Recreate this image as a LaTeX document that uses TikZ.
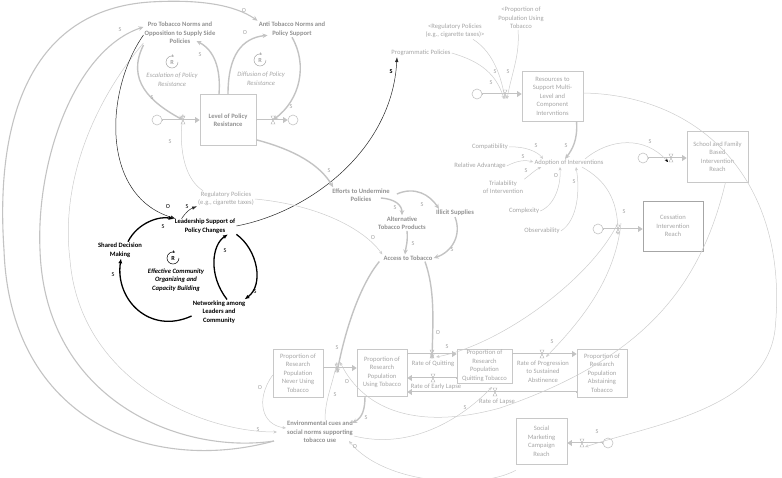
\documentclass[tikz,border=0pt]{standalone}
\usepackage{fontspec}
\setmainfont{Carlito}
\usetikzlibrary{arrows.meta}
\usetikzlibrary{calc}

\definecolor{lngray}{RGB}{205,205,205}
\definecolor{thkgray}{RGB}{195,195,195}
\definecolor{txtgray}{RGB}{165,165,165}
\definecolor{keygray}{RGB}{145,145,145}
\definecolor{boxgray}{RGB}{200,200,200}

\newcommand\dfont{\fontsize{6.6}{8.5}\selectfont}
\newcommand\pfont{\fontsize{6.2}{7}\selectfont}

\tikzset{
  vartxt/.style={text=txtgray, font=\dfont, align=center, inner sep=1pt},
  keyvar/.style={vartxt, text=keygray, font=\dfont\bfseries},
  blkvar/.style={vartxt, text=black, font=\dfont\bfseries},
  looptxt/.style={vartxt, font=\dfont\itshape},
  stockbox/.style={draw=boxgray, line width=0.6pt, text=txtgray, font=\dfont, align=center, inner sep=1pt},
  cloudc/.style={circle, draw=thkgray, line width=0.6pt, minimum size=10pt, inner sep=0pt},
  rmark/.style={circle, inner sep=0pt, minimum size=8pt, text=txtgray, font=\pfont\bfseries},
  rarc/.style={draw=txtgray, line width=0.5pt, -{Stealth[length=2.5pt,width=2.5pt]}},
  lnk/.style={draw=lngray, line width=0.5pt, -{Stealth[length=3.5pt,width=3pt]}},
  thk/.style={draw=thkgray, line width=1.4pt, -{Stealth[length=5pt,width=4.5pt]}},
  blk/.style={draw=black, line width=1.3pt, -{Latex[length=5pt,width=4pt]}},
  blkthin/.style={draw=black!85, line width=0.5pt, -{Latex[length=5pt,width=3.5pt]}},
  pol/.style={text=txtgray, font=\pfont, inner sep=0pt},
  blkpol/.style={text=black, font=\pfont, inner sep=0pt},
  pipebody/.style={draw=thkgray, line width=2.6pt, shorten >=3pt},
  pipecore/.style={draw=white, line width=1pt, shorten >=3.5pt, shorten <=0.8pt},
  pipetip/.style={draw=none, fill=thkgray},
  valve/.pic={\draw[draw=txtgray, line width=0.4pt, fill=white] (-2,-4) -- (2,-4) -- (-2,4) -- (2,4) -- cycle;}
}
% flow pipe with its head: #1 start, #2 end
\newcommand\flow[2]{%
  \draw[pipebody] (#1) -- (#2);
  \draw[pipecore] (#1) -- (#2);
  \path[pipetip] (#2) -- ($(#2)!4.5pt!(#1)!3pt!90:(#1)$) -- ($(#2)!4.5pt!(#1)!3pt!-90:(#1)$) -- cycle;
}

\begin{document}
\begin{tikzpicture}[x=1pt,y=-1pt]
\useasboundingbox (0,0) rectangle (782,477);

% policy resistance
\node[keyvar] (pro) at (180,33) {Pro Tobacco Norms and\\Opposition to Supply Side\\Policies};
\node[keyvar] (anti) at (292,29) {Anti Tobacco Norms and\\Policy Support};
\node[stockbox, text=keygray, font=\dfont\bfseries, minimum width=56pt, minimum height=51pt] (lpr) at (228,120) {Level of Policy\\Resistance};
\node[cloudc] (c1) at (157,120) {};
\node[cloudc] (c2) at (293,120) {};
\coordinate (v1) at (183,120);
\coordinate (v2) at (273,120);
\node[rmark] (r1) at (172,62) {R};
\node[looptxt] (esc) at (172,79.5) {Escalation of Policy\\Resistance};
\node[rmark] (r2) at (260,60) {R};
\node[looptxt] (dif) at (261,78.5) {Diffusion of Policy\\Resistance};

% community organizing loop
\node[vartxt] (reg) at (226,199) {Regulatory Policies\\(e.g., cigarette taxes)};
\node[blkvar] (lead) at (205,226) {Leadership Support of\\Policy Changes};
\node[blkvar] (shared) at (120,250) {Shared Decision\\Making};
\node[blkvar] (netw) at (219,312) {Networking among\\Leaders and\\Community};
\node[rmark, text=black] (r3) at (173,258) {R};
\node[looptxt, text=black, font=\dfont\bfseries\itshape] (eff) at (176,280) {Effective Community\\Organizing and\\Capacity Building};

% access to tobacco
\node[keyvar] (efforts) at (361,195) {Efforts to Undermine\\Policies};
\node[keyvar] (alt) at (402,223) {Alternative\\Tobacco Products};
\node[keyvar] (illicit) at (455,213) {Illicit Supplies};
\node[keyvar] (access) at (408,258) {Access to Tobacco};

% research population stocks
\node[stockbox, minimum width=50pt, minimum height=48pt] (never) at (298,373) {Proportion of\\Research\\Population\\Never Using\\Tobacco};
\node[stockbox, minimum width=50pt, minimum height=47pt] (using) at (382,372.5) {Proportion of\\Research\\Population\\Using Tobacco};
\node[stockbox, minimum width=55pt, minimum height=34pt] (quit) at (484.5,366) {Proportion of\\Research\\Population\\Quitting Tobacco};
\node[stockbox, minimum width=50pt, minimum height=48pt] (abst) at (602,373) {Proportion of\\Research\\Population\\Abstaining\\Tobacco};
\coordinate (v3) at (337,368);
\coordinate (v4) at (432,354);
\coordinate (v5) at (433,378);
\coordinate (v6) at (542,354);
\coordinate (v7) at (495,392);
\node[vartxt] (rq) at (433,364) {Rate of Quitting};
\node[vartxt] (rel) at (436,387) {Rate of Early Lapse};
\node[vartxt] (rp) at (543,371.5) {Rate of Progression\\to Sustained\\Abstinence};
\node[vartxt] (rl) at (497,402) {Rate of Lapse};
\node[keyvar] (env) at (320,432) {Environmental cues and\\social norms supporting\\tobacco use};

% resources and adoption
\node[vartxt] (prog) at (421,53) {Programmatic Policies};
\node[vartxt] (reg2) at (455,31) {<Regulatory Policies\\(e.g., cigarette taxes)>};
\node[vartxt] (popu) at (521,18) {<Proportion of\\Population Using\\Tobacco};
\node[stockbox, minimum width=61pt, minimum height=50pt] (res) at (552.5,96) {Resources to\\Support Multi-\\Level and\\Component\\Intervntions};
\node[cloudc] (c3) at (477,94) {};
\coordinate (v8) at (505,94);
\node[vartxt] (adopt) at (569,163) {Adoption of Interventions};
\node[vartxt] (compat) at (490,147) {Compatibility};
\node[vartxt] (relad) at (480,166) {Relative Advantage};
\node[vartxt] (trial) at (503,187) {Trialability\\of Intervention};
\node[vartxt] (complex) at (524,211) {Complexity};
\node[vartxt] (observ) at (542,231) {Observability};

% intervention reach stocks
\node[stockbox, minimum width=61pt, minimum height=51pt] (school) at (717.5,156.5) {School and Family\\Based\\Intervention\\Reach};
\node[cloudc] (c4) at (643,158) {};
\coordinate (v9) at (671,158);
\node[stockbox, draw=thkgray!85!black, minimum width=60pt, minimum height=50pt] (cess) at (673,226) {Cessation\\Intervention\\Reach};
\node[cloudc] (c5) at (598,229) {};
\coordinate (v10) at (618,229);
\node[stockbox, minimum width=51pt, minimum height=46pt] (soc) at (541.5,441) {Social\\Marketing\\Campaign\\Reach};
\node[cloudc] (c6) at (608,443) {};
\coordinate (v11) at (582,443);

% flows
\flow{c1.east}{lpr.west}
\flow{lpr.east}{c2.west}
\flow{v3 -| never.east}{v3 -| using.west}
\flow{v4 -| using.east}{v4 -| quit.west}
\flow{v5 -| quit.west}{v5 -| using.east}
\flow{v6 -| quit.east}{v6 -| abst.west}
\flow{v7 -| abst.west}{v7 -| using.east}
\flow{c3.east}{c3.east -| res.west}
\flow{c4.east}{c4.east -| school.west}
\flow{c5.east}{c5.east -| cess.west}
\flow{c6.west}{c6.west -| soc.east}
\foreach \vv in {v1,v2,v3,v4,v5,v6,v7,v8,v9,v10,v11} \pic at (\vv) {valve};

% loop marks
\draw[rarc] (r1.center) ++(6,0) arc[start angle=0, end angle=290, radius=6];
\draw[rarc] (r2.center) ++(6,0) arc[start angle=0, end angle=290, radius=6];
\draw[rarc, draw=black] (r3.center) ++(6,0) arc[start angle=0, end angle=290, radius=6];

% policy resistance links
\draw[thk] (pro.south west) .. controls (126,80) and (150,102) .. (v1);
\draw[thk] ([xshift=-9pt]lpr.north) .. controls (221,68) and (214,50) .. ([xshift=-20pt,yshift=4pt]pro.south east);
\draw[thk] (lpr.north) .. controls (228,55) and (242,38) .. ([xshift=10pt,yshift=2pt]anti.south west);
\draw[thk] (anti.south) .. controls (308,65) and (300,100) .. (v2);
\node[pol] (pl1) at (152,98) {S};
\node[pol] (pl2) at (200,55) {S};
\node[pol] (pl3) at (245,33) {O};
\node[pol] (pl4) at (291,107) {S};

% long arcs on the left
\draw[thk, line width=1.1pt] ([shift={(-12pt,-9pt)}]env.west) .. controls (150,475) and (10,420) .. (4,250)
  .. controls (-5,120) and (30,10) .. (150,2) .. controls (200,-1) and (235,5) .. (anti.north west);
\draw[thk, line width=1.1pt] ([shift={(-12pt,-9pt)}]env.west) .. controls (180,455) and (45,400) .. (40,250)
  .. controls (36,160) and (75,50) .. ([yshift=-6pt]pro.north west);
\draw[lnk] ([yshift=-10pt]pro.west) .. controls (95,100) and (60,180) .. (70,260)
  .. controls (80,380) and (200,432) .. ([xshift=-9pt]env.west);
\node[pol] (pl5) at (244,11) {O};
\node[pol] (pl6) at (120,30) {S};
\node[pol] (pl7) at (258,430) {S};

% community organizing links
\draw[blkthin] ([yshift=-2pt]pro.west) .. controls (105,90) and (100,195) .. ([xshift=2pt,yshift=-1pt]lead.north west);
\draw[blkthin] ([xshift=8pt,yshift=-1pt]lead.north west) .. controls (186,212) and (190,209) .. ([yshift=1pt]reg.south west);
\draw[blk] ([xshift=8pt]shared.north) .. controls (138,222) and (160,216) .. ([yshift=7pt]lead.west);
\draw[blk] (lead.south east) .. controls (258,250) and (264,285) .. ([xshift=-2pt]netw.north east);
\draw[blk] ([xshift=8pt]netw.north) .. controls (208,275) and (212,245) .. ([xshift=23pt]lead.south);
\draw[blk] ([yshift=-4pt]netw.west) .. controls (150,335) and (115,300) .. ([xshift=1pt]shared.south);
\draw[blkthin] (lead.east) .. controls (310,212) and (392,150) .. ([xshift=-24pt]prog.south);
\node[blkpol] (pl8) at (168,207) {O};
\node[blkpol] (pl9) at (187,207) {S};
\node[blkpol] (pl10) at (163,227) {S};
\node[blkpol] (pl11) at (255,292) {S};
\node[blkpol] (pl12) at (225,251) {S};
\node[blkpol] (pl13) at (113,275) {S};
\node[blkpol, font=\pfont\bfseries] (pl14) at (391,71) {S};

\draw[lnk] ([xshift=6pt]reg.north west) .. controls (186,180) and (178,152) .. ([yshift=6pt]v1);
\draw[lnk] (reg.east) .. controls (320,205) and (365,230) .. (access.north west);
\node[pol] (pl15) at (170,142) {S};
\node[pol] (pl16) at (373,238) {O};

% access links
\draw[thk] ([yshift=6pt]lpr.south east) .. controls (295,150) and (320,165) .. ([xshift=2pt]efforts.north west);
\draw[thk] ([xshift=-10pt,yshift=-3pt]efforts.east) .. controls (395,199) and (402,205) .. (alt.north);
\draw[thk] ([xshift=6pt,yshift=1pt]efforts.east) .. controls (415,186) and (430,195) .. ([xshift=4pt]illicit.north west);
\draw[thk] ([xshift=5pt]alt.south) .. controls (408,242) and (406,246) .. ([xshift=-3pt]access.north);
\draw[thk] (illicit.south) .. controls (462,235) and (452,252) .. (access.east);
\draw[thk] ([xshift=-3pt]access.south west) .. controls (360,285) and (345,330) .. ([yshift=-5pt]v3);
\draw[thk] ([xshift=17pt]access.south) .. controls (435,290) and (433,320) .. ([yshift=-5pt]v4);
\node[pol] (pl17) at (329,171) {S};
\node[pol] (pl18) at (395,208) {S};
\node[pol] (pl19) at (422,205) {S};
\node[pol] (pl20) at (413,244) {S};
\node[pol] (pl21) at (452,250) {S};
\node[pol] (pl22) at (337,348) {S};
\node[pol] (pl23) at (438,333) {O};

% environment links
\draw[thk] ([xshift=-17pt]using.south) .. controls (365,410) and (362,418) .. ([xshift=-2pt,yshift=-3pt]env.north east);
\draw[lnk] ([xshift=5pt]env.north) .. controls (325,400) and (332,386) .. ([yshift=6pt]v3);
\draw[lnk] ([yshift=-2pt]never.west) .. controls (255,400) and (262,425) .. ([yshift=4pt]env.west);
\draw[lnk] ([yshift=-4pt]env.east) .. controls (410,450) and (460,420) .. ([xshift=-3pt,yshift=5pt]v7);
\node[pol] (pl24) at (366,418) {S};
\node[pol] (pl25) at (335,395) {S};
\node[pol] (pl26) at (260,388) {O};
\node[pol] (pl27) at (465,408) {S};

% resources and adoption links
\draw[lnk] (prog.east) .. controls (475,60) and (495,70) .. ([xshift=-1pt,yshift=-5pt]v8);
\draw[lnk] ([xshift=18pt]reg2.south) .. controls (490,50) and (500,70) .. ([yshift=-5pt]v8);
\draw[lnk] ([xshift=-3pt]popu.south) .. controls (520,55) and (512,72) .. ([xshift=2pt,yshift=-5pt]v8);
\node[pol] (pl28) at (491,83) {S};
\node[pol] (pl29) at (495,72) {S};
\node[pol] (pl30) at (508,72) {S};

\draw[thk] ([xshift=24pt]res.south) .. controls (578,140) and (572,150) .. ([xshift=-4pt]adopt.north);
\draw[lnk] (compat.east) .. controls (525,146) and (538,152) .. ([xshift=-26pt]adopt.north);
\draw[lnk] (relad.east) .. controls (518,160) and (526,160) .. ([yshift=1pt]adopt.west);
\draw[lnk] (trial.north east) .. controls (530,175) and (535,170) .. ([xshift=8pt]adopt.south west);
\draw[lnk] (complex.east) .. controls (555,205) and (561,185) .. ([xshift=-9pt]adopt.south);
\draw[lnk] (observ.east) .. controls (578,220) and (580,190) .. ([xshift=7pt]adopt.south);
\node[pol] (pl31) at (566,146) {S};
\node[pol] (pl32) at (536,146) {S};
\node[pol] (pl33) at (523,157) {S};
\node[pol] (pl34) at (526,171) {S};
\node[pol] (pl35) at (556,176) {O};
\node[pol] (pl36) at (574,182) {S};

% intervention links
\draw[lnk, -{Stealth[length=3.5pt,width=3pt,black]}] ([xshift=16pt]adopt.north) .. controls (610,138) and (645,136) .. ([xshift=-3pt,yshift=-4pt]v9);
\draw[lnk] ([xshift=13pt]adopt.south) .. controls (605,180) and (618,198) .. ([yshift=-6pt]v10);
\draw[lnk] ([yshift=6pt]v10) .. controls (590,280) and (500,345) .. ([xshift=4pt,yshift=-3pt]v4);
\draw[lnk] ([xshift=3pt,yshift=6pt]v10) .. controls (615,280) and (580,322) .. ([xshift=4pt,yshift=-3pt]v6);
\draw[lnk] ([xshift=8pt]school.south) .. controls (700,290) and (640,360) .. (500,408)
  .. controls (420,430) and (365,412) .. ([xshift=3pt,yshift=6pt]v3);
\draw[lnk] ([yshift=3pt]res.east) .. controls (700,95) and (790,180) .. (775,330)
  .. controls (765,410) and (650,425) .. ([xshift=3pt,yshift=-4pt]v11);
\draw[lnk] ([yshift=-6pt]soc.south west) .. controls (480,490) and (385,485) .. ([xshift=-5pt,yshift=3pt]env.south east);
\node[pol] (pl37) at (650,142) {S};
\node[pol] (pl38) at (624,212) {S};
\node[pol] (pl39) at (447,347) {S};
\node[pol] (pl40) at (552,342) {S};
\node[pol] (pl41) at (347,382) {O};
\node[pol] (pl42) at (597,432) {S};
\node[pol] (pl43) at (355,447) {O};
\end{tikzpicture}
\end{document}
